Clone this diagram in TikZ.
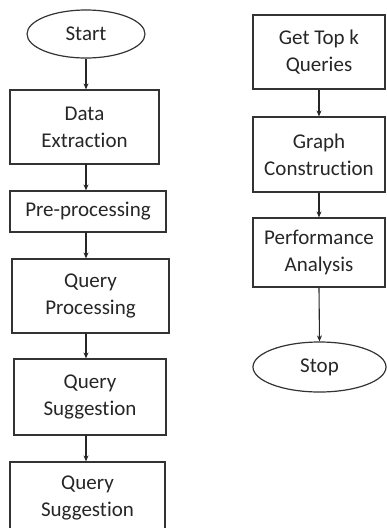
\documentclass[tikz,border=0pt]{standalone}
\usepackage{fontspec}
\setmainfont[Ligatures=NoCommon]{Carlito}
\usetikzlibrary{shapes.geometric,arrows.meta}
\begin{document}
\begin{tikzpicture}[
            x=1pt, y=-1pt,
            every node/.style={font=\fontsize{21}{27}\selectfont, text=black!85, align=center},
            block/.style={draw=black!80, line width=1.2pt, rectangle, inner sep=0pt},
            term/.style={draw=black!80, line width=1.2pt, ellipse, inner sep=0pt},
            arr/.style={draw=black!85, line width=1.1pt, -{Stealth[length=6pt,width=5pt]}}
        ]
        \useasboundingbox (0,0) rectangle (387,528);
        % left column
        \node[term, minimum width=118, minimum height=48] (start) at (86,34) {Start};
        \node[block, minimum width=149, minimum height=74] (dext) at (84.5,127) {Data\\Extraction};
        \node[block, minimum width=156, minimum height=41] (prep) at (88,211.5) {Pre-processing};
        \node[block, minimum width=157, minimum height=74] (qproc) at (90.5,296) {Query\\Processing};
        \node[block, minimum width=152, minimum height=76] (qsug) at (90,397) {Query\\Suggestion};
        \node[block, minimum width=155, minimum height=72] (qsugb) at (87.5,498) {Query\\Suggestion};
        % right column
        \node[block, minimum width=132, minimum height=74] (topk) at (319,52) {Get Top k\\Queries};
        \node[block, minimum width=132, minimum height=75] (graph) at (319,154.5) {Graph\\Construction};
        \node[block, minimum width=132, minimum height=69] (perf) at (319,252.5) {Performance\\Analysis};
        \node[term, minimum width=133, minimum height=50] (stop) at (319.5,367) {Stop};

        \draw[arr] (start.south) -- (start.south |- dext.north);
        \draw[arr] (86,164) coordinate (d1) -- (d1 |- prep.north);
        \draw[arr] (86,232) coordinate (p1) -- (p1 |- qproc.north);
        \draw[arr] (86,333) coordinate (q1) -- (q1 |- qsug.north);
        \draw[arr] (86,435) coordinate (s1) -- (s1 |- qsugb.north);
        \draw[arr] (topk.south) -- (graph.north);
        \draw[arr] (graph.south) -- (perf.north);
        \draw[arr] (perf.south) -- (stop.north);
    \end{tikzpicture}
\end{document}
